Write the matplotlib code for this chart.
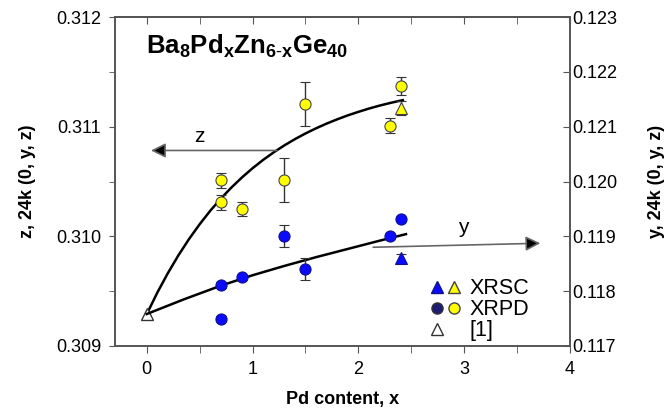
import numpy as np
import matplotlib
matplotlib.use('Agg')
import matplotlib.pyplot as plt
from matplotlib.ticker import MultipleLocator, FormatStrFormatter, NullFormatter
from matplotlib.legend_handler import HandlerTuple
from matplotlib.lines import Line2D

plt.rcParams['font.family'] = ['Liberation Sans', 'DejaVu Sans']
plt.rcParams['mathtext.fontset'] = 'custom'
plt.rcParams['mathtext.rm'] = 'Liberation Sans'
plt.rcParams['mathtext.bf'] = 'Liberation Sans:bold'
plt.rcParams['mathtext.it'] = 'Liberation Sans:italic'

# XRPD (powder) data
xrpd_x = [0.70, 0.70, 0.90, 1.30, 1.50, 2.30, 2.40]
xrpd_z = [0.31051, 0.31031, 0.31025, 0.31051, 0.31121, 0.31101, 0.31137]
xrpd_z_err = [0.00007, 0.00007, 0.00006, 0.00020, 0.00020, 0.00007, 0.00008]
xrpd_y = [0.11750, 0.11811, 0.11825, 0.11900, 0.11841, 0.11900, 0.11932]
xrpd_y_err = [0.00005, 0.00005, 0.00004, 0.00020, 0.00020, 0.00005, 0.00003]

# XRSC (single crystal) data
xrsc_x = [2.40]
xrsc_z = [0.31117]
xrsc_z_err = [0.00006]
xrsc_y = [0.11861]
xrsc_y_err = [0.00007]

# reference [1]
ref_x = [0.0]
ref_z = [0.30929]
ref_y = [0.11758]

# guide curves
zfit_x = [0, 0.1, 0.2, 0.3, 0.4, 0.5, 0.6, 0.7, 0.8, 0.9, 1.0, 1.1, 1.2, 1.3,
          1.4, 1.5, 1.6, 1.7, 1.8, 1.9, 2.0, 2.1, 2.2, 2.3, 2.42]
zfit_z = [0.309290, 0.309487, 0.309665, 0.309828, 0.309976, 0.310110, 0.310233,
          0.310344, 0.310445, 0.310537, 0.310621, 0.310697, 0.310766, 0.310829,
          0.310886, 0.310938, 0.310985, 0.311028, 0.311067, 0.311103, 0.311135,
          0.311165, 0.311192, 0.311216, 0.311242]
yfit_x = [0, 0.35, 0.7, 1.0, 1.3, 1.6, 1.9, 2.2, 2.45]
yfit_y = [0.117583, 0.117850, 0.118100, 0.118290, 0.118460, 0.118620, 0.118770,
          0.118920, 0.119040]

blue = '#0a0aff'
yellow = '#ffff00'
navy = '#1c1c78'
ecol = '#333333'
axcol = '#555555'

fig = plt.figure(figsize=(6.71, 4.12), dpi=100)
ax = fig.add_axes([0.1714, 0.1602, 0.678, 0.7985])
ax2 = ax.twinx()

ax.set_xlim(-0.3, 4)
ax.set_ylim(0.309, 0.312)
ax2.set_ylim(0.117, 0.123)

# curves
ax.plot(zfit_x, zfit_z, color='black', lw=1.8, zorder=2)
ax2.plot(yfit_x, yfit_y, color='black', lw=1.8, zorder=2)

# z (left axis)
ax.errorbar(xrpd_x, xrpd_z, yerr=xrpd_z_err, fmt='o', ms=8, mfc=yellow, mec='#444444',
            mew=0.8, ecolor=ecol, elinewidth=1, capsize=3.5, capthick=1, zorder=4)
ax.errorbar(xrsc_x, xrsc_z, yerr=xrsc_z_err, fmt='^', ms=8, mfc=yellow, mec='#444444',
            mew=0.8, ecolor=ecol, elinewidth=1, capsize=3.5, capthick=1, zorder=4)
ax.plot(ref_x, ref_z, '^', ms=8, mfc='white', mec='#333333', mew=1, zorder=5)

# y (right axis)
ax2.errorbar(xrpd_x, xrpd_y, yerr=xrpd_y_err, fmt='o', ms=8, mfc=blue, mec='#10108a',
             mew=0.8, ecolor=ecol, elinewidth=1, capsize=3.5, capthick=1, zorder=4)
ax2.errorbar(xrsc_x, xrsc_y, yerr=xrsc_y_err, fmt='^', ms=8, mfc=blue, mec='#10108a',
             mew=0.8, ecolor=ecol, elinewidth=1, capsize=3.5, capthick=1, zorder=4)

# arrows
arrow_kw = dict(arrowstyle='-|>', ec='#666666', fc='black', lw=1.2,
                mutation_scale=22, shrinkA=0, shrinkB=0)
ax.annotate('', xy=(0.04, 0.310783), xytext=(1.23, 0.310783), arrowprops=arrow_kw)
ax2.annotate('', xy=(3.72, 0.118874), xytext=(2.14, 0.118801), arrowprops=arrow_kw)
ax.text(0.50, 0.31091, 'z', fontsize=15, ha='center', va='center')
ax2.text(2.99, 0.11916, 'y', fontsize=15, ha='center', va='center')

ax.text(-0.01, 0.31173, r'$\mathbf{Ba_8Pd_xZn_{6\text{-}x}Ge_{40}}$', fontsize=18.5,
        ha='left', va='center')

# legend
h_tri = (Line2D([], [], ls='', marker='^', ms=8, mfc=blue, mec='#10108a'),
         Line2D([], [], ls='', marker='^', ms=8, mfc=yellow, mec='#444444'))
h_circ = (Line2D([], [], ls='', marker='o', ms=8, mfc=navy, mec='#333333'),
          Line2D([], [], ls='', marker='o', ms=8, mfc=yellow, mec='#444444'))
h_ref = (Line2D([], [], ls='', marker='^', ms=8, mfc='white', mec='#333333'),)
leg = ax.legend([h_tri, h_circ, h_ref], ['XRSC', 'XRPD', '[1]'],
                handler_map={tuple: HandlerTuple(ndivide=2, pad=0.1)},
                loc='upper left', bbox_to_anchor=(0.69, 0.206), frameon=False,
                fontsize=15.5, handlelength=1.55, handletextpad=0.35,
                labelspacing=0.0, borderpad=0, borderaxespad=0)

# axes styling
for a in (ax, ax2):
    for s in a.spines.values():
        s.set_color(axcol)
        s.set_linewidth(1.2)

ax.xaxis.set_major_locator(MultipleLocator(1))
ax.xaxis.set_minor_locator(MultipleLocator(0.5))
ax.yaxis.set_major_locator(MultipleLocator(0.001))
ax.yaxis.set_minor_locator(MultipleLocator(0.0005))
ax.yaxis.set_major_formatter(FormatStrFormatter('%.3f'))
ax2.yaxis.set_major_locator(MultipleLocator(0.001))
ax2.yaxis.set_major_formatter(FormatStrFormatter('%.3f'))

ax.tick_params(axis='x', which='both', direction='out', labelsize=13,
               color=axcol, length=5, pad=6)
ax.tick_params(axis='y', which='both', direction='out', labelsize=13,
               color=axcol, length=4, pad=6)
ax2.tick_params(axis='y', which='both', direction='in', labelsize=13,
                color=axcol, length=5, pad=2)

# inward ticks along the top edge
top = ax.secondary_xaxis('top')
top.xaxis.set_major_locator(MultipleLocator(1))
top.xaxis.set_minor_locator(MultipleLocator(0.5))
top.xaxis.set_major_formatter(NullFormatter())
top.tick_params(which='both', direction='in', color=axcol, length=5)
top.spines['top'].set_color(axcol)
top.spines['top'].set_linewidth(1.2)

ax.set_xlabel('Pd content, x', fontsize=13, fontweight='bold', labelpad=9)
ax.set_ylabel('z, 24k (0, y, z)', fontsize=13, fontweight='bold', labelpad=14)
ax2.set_ylabel('y, 24k (0, y, z)', fontsize=13, fontweight='bold', labelpad=22)

fig.savefig('out.png', dpi=100)
